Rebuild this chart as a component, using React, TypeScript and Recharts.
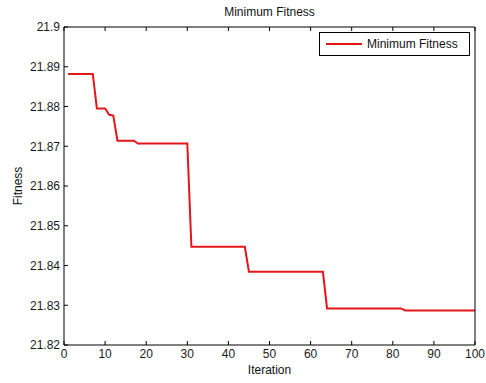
import React from 'react';
import { LineChart, Line, XAxis, YAxis } from 'recharts';

const iterations: number[] = Array.from({ length: 100 }, (_, i) => i + 1);

const minFitness: number[] = [
  21.8882, 21.8882, 21.8882, 21.8882, 21.8882, 21.8882, 21.8882, 21.8795, 21.8795, 21.8795,
  21.8779, 21.8777, 21.8714, 21.8714, 21.8714, 21.8714, 21.8714, 21.8707, 21.8707, 21.8707,
  21.8707, 21.8707, 21.8707, 21.8707, 21.8707, 21.8707, 21.8707, 21.8707, 21.8707, 21.8707,
  21.8447, 21.8447, 21.8447, 21.8447, 21.8447, 21.8447, 21.8447, 21.8447, 21.8447, 21.8447,
  21.8447, 21.8447, 21.8447, 21.8447, 21.8384, 21.8384, 21.8384, 21.8384, 21.8384, 21.8384,
  21.8384, 21.8384, 21.8384, 21.8384, 21.8384, 21.8384, 21.8384, 21.8384, 21.8384, 21.8384,
  21.8384, 21.8384, 21.8384, 21.8292, 21.8292, 21.8292, 21.8292, 21.8292, 21.8292, 21.8292,
  21.8292, 21.8292, 21.8292, 21.8292, 21.8292, 21.8292, 21.8292, 21.8292, 21.8292, 21.8292,
  21.8292, 21.8292, 21.8287, 21.8287, 21.8287, 21.8287, 21.8287, 21.8287, 21.8287, 21.8287,
  21.8287, 21.8287, 21.8287, 21.8287, 21.8287, 21.8287, 21.8287, 21.8287, 21.8287, 21.8287,
];

const xTicks: number[] = [0, 10, 20, 30, 40, 50, 60, 70, 80, 90, 100];
const yTicks: number[] = [21.82, 21.83, 21.84, 21.85, 21.86, 21.87, 21.88, 21.89, 21.9];
const yTickLabels: string[] = ['21.82', '21.83', '21.84', '21.85', '21.86', '21.87', '21.88', '21.89', '21.9'];

const title = 'Minimum Fitness';
const seriesName = 'Minimum Fitness';
const xLabel = 'Iteration';
const yLabel = 'Fitness';

const data = iterations.map((it, i) => ({ iter: it, fit: minFitness[i] }));

const FONT = '"Liberation Sans", Arial, sans-serif';
const RED = '#e4161a';

const tickStyle = { fontSize: 12, fill: '#1a1a1a', fontFamily: FONT };

const LegendBox = () => (
  <div
    style={{
      position: 'absolute',
      top: 32,
      left: 319,
      border: '1px solid #000',
      background: '#fff',
      width: 151,
      height: 24,
      display: 'flex',
      alignItems: 'center',
      boxSizing: 'border-box',
      fontFamily: FONT,
      fontSize: 12,
      color: '#111',
    }}
  >
    <svg width={44} height={10} style={{ marginLeft: 6 }}>
      <line x1={0} y1={5} x2={36} y2={5} stroke={RED} strokeWidth={2} />
    </svg>
    <span style={{ marginLeft: -3 }}>{seriesName}</span>
  </div>
);

export default function App() {
  return (
    <div style={{ position: 'absolute', left: 0, top: 0, width: 486, height: 383, background: '#fff' }}>
      <LineChart
        width={486}
        height={383}
        data={data}
        margin={{ top: 26, right: 10, left: 0, bottom: 0 }}
      >
        <XAxis
          xAxisId="b"
          dataKey="iter"
          type="number"
          domain={[0, 100]}
          ticks={xTicks}
          orientation="bottom"
          height={38}
          tickSize={-4}
          tickMargin={8}
          stroke="#000"
          tick={tickStyle}
          interval={0}
          allowDataOverflow
        />
        <XAxis
          xAxisId="t"
          dataKey="iter"
          type="number"
          domain={[0, 100]}
          ticks={xTicks}
          orientation="top"
          height={1}
          tickSize={-4}
          tickFormatter={() => ''}
          stroke="#000"
          interval={0}
        />
        <YAxis
          yAxisId="l"
          type="number"
          domain={[21.82, 21.9]}
          ticks={yTicks}
          orientation="left"
          width={64}
          tickSize={-4}
          tickMargin={8}
          stroke="#000"
          tick={tickStyle}
          interval={0}
          tickFormatter={(v: number) => yTickLabels[yTicks.findIndex((t) => Math.abs(t - v) < 1e-9)] ?? String(v)}
          allowDataOverflow
        />
        <YAxis
          yAxisId="r"
          type="number"
          domain={[21.82, 21.9]}
          ticks={yTicks}
          orientation="right"
          width={1}
          tickSize={-4}
          tickFormatter={() => ''}
          stroke="#000"
          interval={0}
        />
        <Line
          xAxisId="b"
          yAxisId="l"
          dataKey="fit"
          name={seriesName}
          stroke={RED}
          strokeWidth={2}
          dot={false}
          isAnimationActive={false}
          type="linear"
        />
      </LineChart>
      <LegendBox />
      <div
        style={{
          position: 'absolute',
          top: 5,
          left: 64,
          width: 411,
          textAlign: 'center',
          fontFamily: FONT,
          fontSize: 12,
          color: '#111',
        }}
      >
        {title}
      </div>
      <div
        style={{
          position: 'absolute',
          top: 363,
          left: 64,
          width: 411,
          textAlign: 'center',
          fontFamily: FONT,
          fontSize: 12,
          color: '#111',
        }}
      >
        {xLabel}
      </div>
      <div
        style={{
          position: 'absolute',
          left: 18,
          top: 186,
          transform: 'translate(-50%, -50%) rotate(-90deg)',
          fontFamily: FONT,
          fontSize: 12,
          color: '#111',
          whiteSpace: 'nowrap',
        }}
      >
        {yLabel}
      </div>
    </div>
  );
}
